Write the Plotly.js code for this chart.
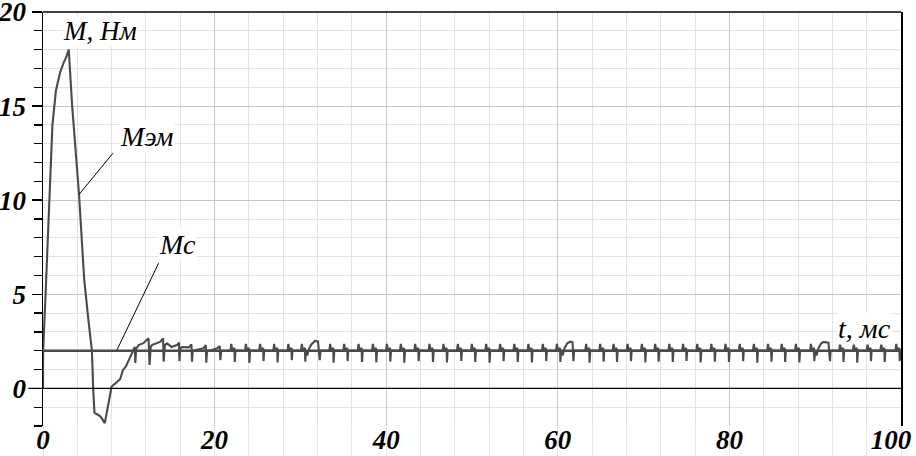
<!DOCTYPE html>
<html>
<head>
<meta charset="utf-8">
<script src="https://cdn.plot.ly/plotly-3.0.1.min.js"></script>
<style>html,body{margin:0;padding:0;background:#fff;}#chart{width:916px;height:456px;}</style>
</head>
<body>
<div id="chart"></div>
<script>
// Start-up transient of the electromagnetic torque Mэм (t in ms, M in N·m)
const tStart = [0,0.02,0.3,0.7,1.1,1.5,2.0,2.4,2.7,3.0,3.4,4.2,4.8,5.3,5.7,5.85,6.0,6.4,6.7,7.2,8.0,8.4,9.0,9.3,9.7,10.0,10.4,10.7,10.76,10.85,11.15,11.7,12.3,12.42,12.55,12.7,13.7,14.0,14.06,14.2,14.45,15.0,15.6,15.85,15.9,16.0,16.2,17.0,17.3,17.37,17.45,17.95,18.7,18.97,19.03,19.12,19.7,20.3,20.6,20.67,20.77];
const mStart = [0,2.0,5.0,9.5,14.0,15.8,16.8,17.3,17.6,18.0,15.0,10.3,5.8,3.6,2.0,0.0,-1.3,-1.4,-1.5,-1.85,0.1,0.25,0.5,0.95,1.2,1.5,1.95,2.2,1.35,2.1,2.3,2.4,2.66,1.25,2.2,2.3,2.48,2.66,1.42,2.3,2.39,2.2,2.3,2.43,1.45,2.1,2.2,2.18,2.34,1.42,2.0,2.04,2.13,2.3,1.36,2.0,2.04,2.13,2.25,1.5,2.0];

// Steady-state ripple of Mэм
const tSteady = [
 21.85,21.95,22.05,22.31,22.35,22.43,
 23.55,23.65,23.75,24.01,24.05,24.13,
 25.2,25.3,25.4,25.66,25.7,25.78,
 26.84,26.94,27.04,27.3,27.34,27.42,
 28.5,28.6,28.7,28.96,29.0,29.08,
 30.07,30.17,30.27,30.53,30.57,30.65,
 30.8,31.0,31.3,31.7,32.05,32.25,32.35,
 33.37,33.47,33.57,33.83,33.87,33.95,
 35.0,35.1,35.2,35.46,35.5,35.58,
 36.68,36.78,36.88,37.14,37.18,37.26,
 38.35,38.45,38.55,38.81,38.85,38.93,
 39.98,40.08,40.18,40.44,40.48,40.56,
 41.61,41.71,41.81,42.07,42.11,42.19,
 43.28,43.38,43.48,43.74,43.78,43.86,
 44.95,45.05,45.15,45.41,45.45,45.53,
 46.58,46.68,46.78,47.04,47.08,47.16,
 48.25,48.35,48.45,48.71,48.75,48.83,
 49.88,49.98,50.08,50.34,50.38,50.46,
 51.55,51.65,51.75,52.01,52.05,52.13,
 53.18,53.28,53.38,53.64,53.68,53.76,
 54.83,54.93,55.03,55.29,55.33,55.41,
 56.48,56.58,56.68,56.94,56.98,57.06,
 58.15,58.25,58.35,58.61,58.65,58.73,
 59.8,59.9,60.0,60.26,60.3,60.38,
 60.55,60.8,61.1,61.46,61.72,61.82,61.9,
 63.2,63.3,63.4,63.66,63.7,63.78,
 64.84,64.94,65.04,65.3,65.34,65.42,
 66.4,66.5,66.6,66.86,66.9,66.98,
 68.03,68.13,68.23,68.49,68.53,68.61,
 69.7,69.8,69.9,70.16,70.2,70.28,
 71.25,71.35,71.45,71.71,71.75,71.83,
 72.9,73.0,73.1,73.36,73.4,73.48,
 74.5,74.6,74.7,74.96,75.0,75.08,
 76.15,76.25,76.35,76.61,76.65,76.73,
 77.8,77.9,78.0,78.26,78.3,78.38,
 79.45,79.55,79.65,79.91,79.95,80.03,
 81.1,81.2,81.3,81.56,81.6,81.68,
 82.75,82.85,82.95,83.21,83.25,83.33,
 84.4,84.5,84.6,84.86,84.9,84.98,
 86.0,86.1,86.2,86.46,86.5,86.58,
 87.65,87.75,87.85,88.11,88.15,88.23,
 89.4,89.5,89.6,89.86,89.9,89.98,
 90.15,90.4,90.7,91.0,91.55,91.72,91.8,
 92.8,92.9,93.0,93.26,93.3,93.38,
 94.4,94.5,94.6,94.86,94.9,94.98,
 96.0,96.1,96.2,96.46,96.5,96.58,
 97.6,97.7,97.8,98.06,98.1,98.18,
 99.35,99.45,99.55,99.81,99.85,99.93,100
];
const mSteady = [
 2.0,2.36,2.04,2.14,1.40,2.02,
 2.0,2.36,2.04,2.14,1.35,2.02,
 2.0,2.36,2.04,2.14,1.45,2.02,
 2.0,2.36,2.04,2.14,1.38,2.02,
 2.0,2.36,2.04,2.14,1.50,2.02,
 2.0,2.36,2.04,2.14,1.42,2.00,
 1.75,2.10,2.35,2.52,2.50,1.50,2.02,
 2.0,2.36,2.04,2.14,1.36,2.02,
 2.0,2.36,2.04,2.14,1.45,2.02,
 2.0,2.36,2.04,2.14,1.40,2.02,
 2.0,2.36,2.04,2.14,1.38,2.02,
 2.0,2.36,2.04,2.14,1.42,2.02,
 2.0,2.36,2.04,2.14,1.36,2.02,
 2.0,2.36,2.04,2.14,1.45,2.02,
 2.0,2.36,2.04,2.14,1.40,2.02,
 2.0,2.36,2.04,2.14,1.38,2.02,
 2.0,2.36,2.04,2.14,1.46,2.02,
 2.0,2.36,2.04,2.14,1.40,2.02,
 2.0,2.36,2.04,2.14,1.36,2.02,
 2.0,2.36,2.04,2.14,1.44,2.02,
 2.0,2.36,2.04,2.14,1.40,2.02,
 2.0,2.36,2.04,2.14,1.38,2.02,
 2.0,2.36,2.04,2.14,1.45,2.02,
 2.0,2.36,2.04,2.14,1.40,2.00,
 1.75,2.15,2.40,2.48,2.45,1.45,2.02,
 2.0,2.36,2.04,2.14,1.36,2.02,
 2.0,2.36,2.04,2.14,1.42,2.02,
 2.0,2.36,2.04,2.14,1.40,2.02,
 2.0,2.36,2.04,2.14,1.45,2.02,
 2.0,2.36,2.04,2.14,1.38,2.02,
 2.0,2.36,2.04,2.14,1.42,2.02,
 2.0,2.36,2.04,2.14,1.40,2.02,
 2.0,2.36,2.04,2.14,1.46,2.02,
 2.0,2.36,2.04,2.14,1.38,2.02,
 2.0,2.36,2.04,2.14,1.42,2.02,
 2.0,2.36,2.04,2.14,1.40,2.02,
 2.0,2.36,2.04,2.14,1.45,2.02,
 2.0,2.36,2.04,2.14,1.36,2.02,
 2.0,2.36,2.04,2.14,1.42,2.02,
 2.0,2.36,2.04,2.14,1.40,2.02,
 2.0,2.36,2.04,2.14,1.38,2.02,
 2.0,2.36,2.04,2.14,1.44,2.00,
 1.75,2.15,2.40,2.47,2.42,1.45,2.02,
 2.0,2.36,2.04,2.14,1.40,2.02,
 2.0,2.36,2.04,2.14,1.36,2.02,
 2.0,2.36,2.04,2.14,1.45,2.02,
 2.0,2.36,2.04,2.14,1.40,2.02,
 2.0,2.36,2.04,2.14,1.45,2.02,2.02
];

// Load torque Mc (constant)
const tMc = [0, 100];
const mMc = [2, 2];

// Tick labels
const xTickVals = [0, 20, 40, 60, 80, 100];
const xTickText = ['0', '20', '40', '60', '80', '100\u00a0\u00a0\u00a0'];
const yTickVals = [0, 5, 10, 15, 20];
const yTickText = ['0', '5', '10', '15', '20'];

const tEm = tStart.concat(tSteady);
const mEm = mStart.concat(mSteady);

const lineCol = '#4a4a4a';
const tickFont = {family: 'Liberation Serif', size: 27, color: '#000', weight: 'bold', style: 'italic'};
const annFont = {family: 'Liberation Serif', size: 28, color: '#000', style: 'italic'};

const traces = [
  {x: tMc, y: mMc, type: 'scatter', mode: 'lines', line: {color: lineCol, width: 2.4}, hoverinfo: 'skip'},
  {x: tEm, y: mEm, type: 'scatter', mode: 'lines', line: {color: lineCol, width: 2.1}, hoverinfo: 'skip'}
];

const layout = {
  width: 916, height: 456,
  margin: {l: 43, r: 15, t: 12, b: 30},
  paper_bgcolor: '#fff', plot_bgcolor: '#fff',
  showlegend: false,
  xaxis: {
    range: [0, 100], tickmode: 'array', tickvals: xTickVals, ticktext: xTickText,
    showgrid: true, gridcolor: '#c6c6c6', gridwidth: 1,
    zeroline: false, showline: false, ticks: '',
    ticklabeloverflow: 'allow', ticklabelstandoff: -5,
    tickfont: tickFont,
    minor: {tickmode: 'linear', tick0: 0, dtick: 4, showgrid: true, gridcolor: '#e3e3e3', gridwidth: 1,
            ticks: 'outside', ticklen: 30, tickcolor: '#e6e6e6', tickwidth: 1}
  },
  yaxis: {
    range: [-2, 20], tickmode: 'array', tickvals: yTickVals, ticktext: yTickText,
    showgrid: true, gridcolor: '#c6c6c6', gridwidth: 1,
    zeroline: false, showline: true, linecolor: '#000', linewidth: 1.5, mirror: true,
    ticks: 'outside', ticklen: 10, tickcolor: '#000', tickwidth: 1.5,
    ticklabeloverflow: 'allow',
    tickfont: tickFont,
    minor: {tickmode: 'linear', tick0: 0, dtick: 1, showgrid: true, gridcolor: '#e3e3e3', gridwidth: 1,
            ticks: 'outside', ticklen: 8, tickcolor: '#000', tickwidth: 1.2}
  },
  shapes: [
    {type: 'line', xref: 'paper', yref: 'paper', x0: 0, x1: 1, y0: 1, y1: 1, line: {color: '#000', width: 1.5}},
    {type: 'line', xref: 'paper', yref: 'y', x0: -0.017, x1: 1, y0: 0, y1: 0, line: {color: '#000', width: 1.2}},
    {type: 'line', xref: 'x', yref: 'y', x0: 8.16, y0: 12.5, x1: 4.23, y1: 10.32, line: {color: '#000', width: 1}, layer: 'above'},
    {type: 'line', xref: 'x', yref: 'y', x0: 13.47, y0: 6.65, x1: 8.62, y1: 2.04, line: {color: '#000', width: 1}, layer: 'above'}
  ],
  annotations: [
    {text: 'M, Нм', x: 6.68, y: 19.0, xref: 'x', yref: 'y', showarrow: false, font: Object.assign({}, annFont, {size: 27}), bgcolor: '#fff', borderpad: 0},
    {text: 'Мэм', x: 12.1, y: 13.4, xref: 'x', yref: 'y', showarrow: false, font: annFont, bgcolor: '#fff', borderpad: 0},
    {text: 'Мс', x: 15.7, y: 7.67, xref: 'x', yref: 'y', showarrow: false, font: annFont, bgcolor: '#fff', borderpad: 0},
    {text: 't, мс', x: 95.8, y: 3.16, xref: 'x', yref: 'y', showarrow: false, font: annFont, bgcolor: '#fff', borderpad: 0}
  ]
};

Plotly.newPlot('chart', traces, layout, {staticPlot: true, displayModeBar: false});
</script>
</body>
</html>
